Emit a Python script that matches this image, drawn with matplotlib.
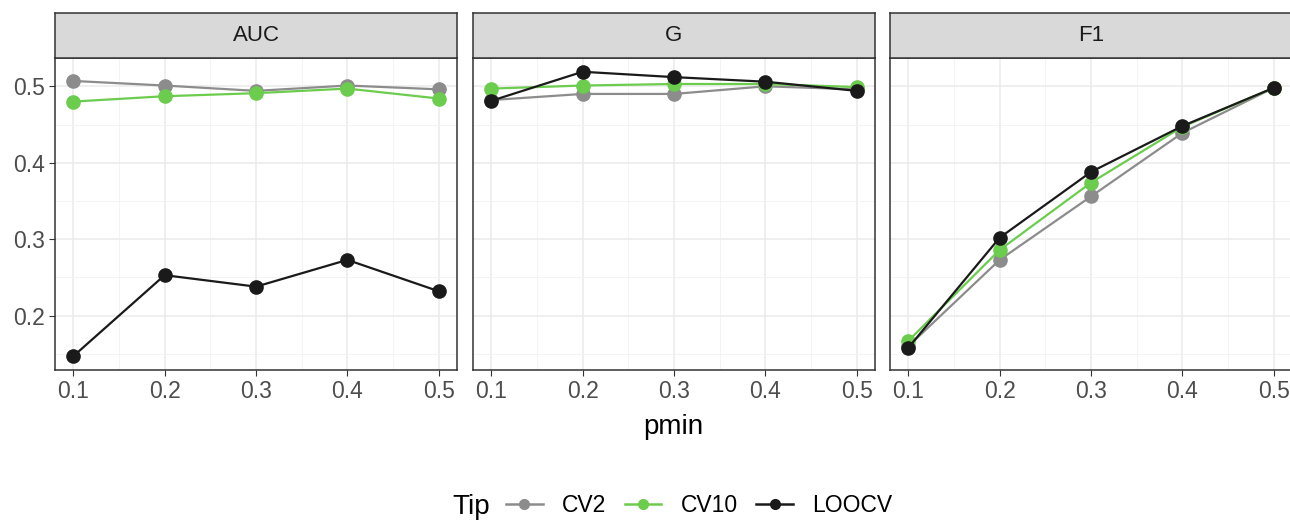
import matplotlib
matplotlib.use("Agg")
import matplotlib.pyplot as plt
from matplotlib.lines import Line2D

plt.rcParams["font.family"] = ["Liberation Sans", "DejaVu Sans"]

# data
pmin = [0.1, 0.2, 0.3, 0.4, 0.5]
panels = ["AUC", "G", "F1"]
tips = ["CV2", "CV10", "LOOCV"]

auc_cv2 = [0.507, 0.501, 0.494, 0.501, 0.496]
auc_cv10 = [0.480, 0.487, 0.491, 0.497, 0.484]
auc_loocv = [0.147, 0.253, 0.238, 0.273, 0.232]

g_cv2 = [0.482, 0.490, 0.490, 0.500, 0.496]
g_cv10 = [0.497, 0.501, 0.503, 0.503, 0.499]
g_loocv = [0.481, 0.519, 0.512, 0.506, 0.494]

f1_cv2 = [0.160, 0.273, 0.356, 0.439, 0.498]
f1_cv10 = [0.167, 0.286, 0.374, 0.447, 0.498]
f1_loocv = [0.158, 0.302, 0.388, 0.448, 0.498]

series = {
    "AUC": [auc_cv2, auc_cv10, auc_loocv],
    "G": [g_cv2, g_cv10, g_loocv],
    "F1": [f1_cv2, f1_cv10, f1_loocv],
}

colors = {"CV2": "#8c8c8c", "CV10": "#6ccc4e", "LOOCV": "#1a1a1a"}

W, H = 1290, 522
fig = plt.figure(figsize=(W / 100, H / 100), dpi=100)


def px_axes(x0, y0, x1, y1):
    # pixel box (top-left origin) -> figure axes
    return fig.add_axes([x0 / W, 1 - y1 / H, (x1 - x0) / W, (y1 - y0) / H])


lefts = [55, 473, 890]
pw = 402
top, strip_top, bottom = 58, 13, 370

ymin, ymax = 0.129, 0.537
xmin, xmax = 0.08, 0.52

for i, name in enumerate(panels):
    x0 = lefts[i]
    ax = px_axes(x0, top, x0 + pw, bottom)
    ax.set_xlim(xmin, xmax)
    ax.set_ylim(ymin, ymax)
    ax.set_xticks(pmin)
    ax.set_xticks([0.15, 0.25, 0.35, 0.45], minor=True)
    ax.set_yticks([0.2, 0.3, 0.4, 0.5])
    ax.set_yticks([0.15, 0.25, 0.35, 0.45], minor=True)
    ax.grid(True, which="major", color="#ebebeb", linewidth=1.1)
    ax.grid(True, which="minor", color="#f2f2f2", linewidth=0.6)
    ax.set_axisbelow(True)
    ax.tick_params(which="minor", length=0)
    ax.tick_params(which="major", length=4, width=0.8, color="#333333",
                   labelsize=16.5, labelcolor="#4d4d4d", pad=3)
    ax.set_xticklabels([f"{v:.1f}" for v in pmin])
    if i == 0:
        ax.set_yticklabels(["0.2", "0.3", "0.4", "0.5"])
    else:
        ax.tick_params(axis="y", left=False, labelleft=False)
    for s in ax.spines.values():
        s.set_color("#333333")
        s.set_linewidth(1.1)

    for tip, vals in zip(tips, series[name]):
        ax.plot(pmin, vals, color=colors[tip], linewidth=1.6, marker="o",
                markersize=9.5, zorder=3)

    # facet strip
    sax = px_axes(x0, strip_top, x0 + pw, top)
    sax.set_facecolor("#d9d9d9")
    sax.set_xticks([])
    sax.set_yticks([])
    for s in sax.spines.values():
        s.set_color("#333333")
        s.set_linewidth(1.1)
    sax.text(0.5, 0.5, name, ha="center", va="center", fontsize=16,
             color="#1a1a1a", transform=sax.transAxes)

fig.text(673 / W, 1 - 427 / H, "pmin", ha="center", va="center", fontsize=20,
         color="#000000")

handles = [Line2D([0], [0], color=colors[t], linewidth=1.8, marker="o",
                  markersize=7) for t in tips]
fig.text(471 / W, 1 - 507 / H, "Tip", ha="center", va="center", fontsize=20)
fig.legend(handles, tips, ncol=3, loc="center left",
           bbox_to_anchor=(506 / W, 1 - 506 / H), frameon=False, fontsize=16.5,
           handlelength=1.6, handletextpad=0.85, columnspacing=0.8,
           borderaxespad=0, borderpad=0)

fig.savefig("out.png", dpi=100)
